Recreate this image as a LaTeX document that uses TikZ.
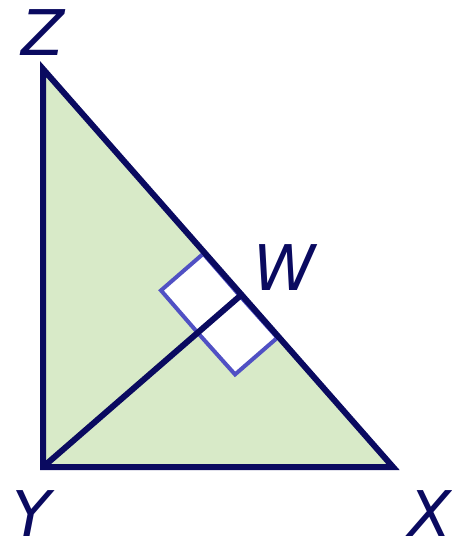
\documentclass[tikz,border=0pt]{standalone}
\usepackage{fontspec}
\setmainfont{DejaVu Sans}
\usetikzlibrary{calc}
\definecolor{fillg}{HTML}{D8EAC8}
\definecolor{navy}{HTML}{0A0A60}
\definecolor{markb}{HTML}{5050C4}
\tikzset{
  edge/.style={draw=navy, line width=6pt, line join=miter},
  rmark/.style={draw=markb, line width=4pt, fill=white},
  lbl/.style={text=navy, font=\fontsize{63}{63}\selectfont\itshape, inner sep=0pt}
}
\begin{document}
\begin{tikzpicture}[x=1pt,y=-1pt]
\useasboundingbox (0,0) rectangle (451,536);
\coordinate (Z) at (43,69);
\coordinate (Y) at (43,467);
\coordinate (X) at (393,467);
\coordinate (W) at (240,296);
\fill[fillg] (Z) -- (X) -- (Y) -- cycle;
\coordinate (Wz) at ($(W)!56pt!(Z)$);
\coordinate (Wx) at ($(W)!56pt!(X)$);
\coordinate (Wy) at ($(W)!56pt!(Y)$);
\coordinate (Cz) at ($(Wz)+(Wy)-(W)$);
\coordinate (Cx) at ($(Wx)+(Wy)-(W)$);
\path[rmark] (W) -- (Wz) -- (Cz) -- (Wy) -- cycle;
\path[rmark] (W) -- (Wx) -- (Cx) -- (Wy) -- cycle;
\draw[edge] (Y) -- (W);
\draw[edge] (Z) -- (X) -- (Y) -- cycle;
\node[lbl] (lz) at (43,33) {Z};
\node[lbl] (lw) at (285,268) {W};
\node[lbl] (ly) at (32,514) {Y};
\node[lbl] (lx) at (430,514) {X};
\end{tikzpicture}
\end{document}
